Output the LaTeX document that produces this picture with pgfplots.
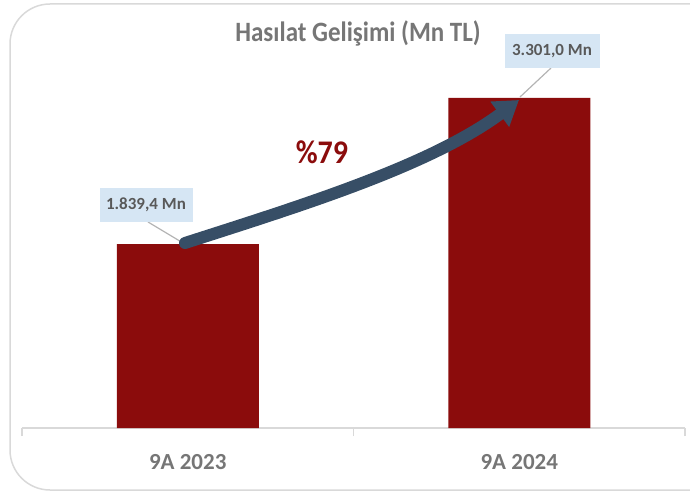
\documentclass[border=0pt]{standalone}
\usepackage{fontspec}
\setmainfont{Carlito}
\usepackage{pgfplots}
\pgfplotsset{compat=1.18}
\usetikzlibrary{arrows.meta}
\definecolor{barred}{RGB}{139,12,12}
\definecolor{txtgray}{RGB}{118,118,118}
\definecolor{lblgray}{RGB}{89,89,89}
\definecolor{boxblue}{RGB}{214,230,244}
\definecolor{arrowblue}{RGB}{55,78,102}
\definecolor{gridgray}{RGB}{217,217,217}
\definecolor{leadgray}{RGB}{180,180,180}
\begin{document}
\begin{tikzpicture}[x=1pt,y=1pt]
\begin{scope}
\clip (0,0) rectangle (690,496);
\draw[gridgray, line width=1.5pt, rounded corners=40pt] (10,6) rectangle (730,492);
\node[txtgray, font=\fontsize{25}{30}\selectfont\bfseries, yscale=1.12] at (358,463) {Hasılat Gelişimi (Mn TL)};
\begin{axis}[
  at={(22pt,68pt)}, anchor=south west,
  scale only axis, width=663pt, height=380pt,
  xmin=-0.5, xmax=1.5, ymin=0, ymax=3800,
  axis y line=none, axis x line=bottom,
  x axis line style={gridgray, line width=1.5pt, -},
  xtick={0,1}, xticklabels={9A 2023,9A 2024},
  major tick length=0pt,
  extra x ticks={-0.5,0.5,1.5}, extra x tick labels={},
  extra x tick style={major tick length=8pt, tick align=outside,
     tick style={gridgray, line width=1.5pt}},
  xticklabel style={font=\fontsize{23}{27}\selectfont\bfseries, text=txtgray, yshift=-23pt},
  clip=false,
]
\addplot[ybar, bar width=142pt, fill=barred, draw=none] coordinates {(0,1839.4) (1,3301.0)};
\end{axis}
\draw[leadgray, line width=1.2pt] (148,274) -- (183,253);
\draw[leadgray, line width=1.2pt] (551,428) -- (520,399);
\node[fill=boxblue, minimum width=93pt, minimum height=34pt, inner sep=0pt, text=lblgray, font=\fontsize{17}{20}\selectfont\bfseries] at (146,291) {1.839,4 Mn};
\node[fill=boxblue, minimum width=95pt, minimum height=34pt, inner sep=0pt, text=lblgray, font=\fontsize{17}{20}\selectfont\bfseries] at (552,445) {3.301,0 Mn};
\draw[arrowblue, line width=12pt, line cap=round, -{Triangle[length=24pt, width=30pt]}]
  (185,253) .. controls (300,290) and (430,330) .. (519,396);
\node[text=barred, font=\fontsize{30}{36}\selectfont\bfseries, yscale=1.1] at (322,344) {\%79};
\end{scope}
\pgfresetboundingbox
\path[use as bounding box] (0,0) rectangle (690,496);
\end{tikzpicture}
\end{document}
